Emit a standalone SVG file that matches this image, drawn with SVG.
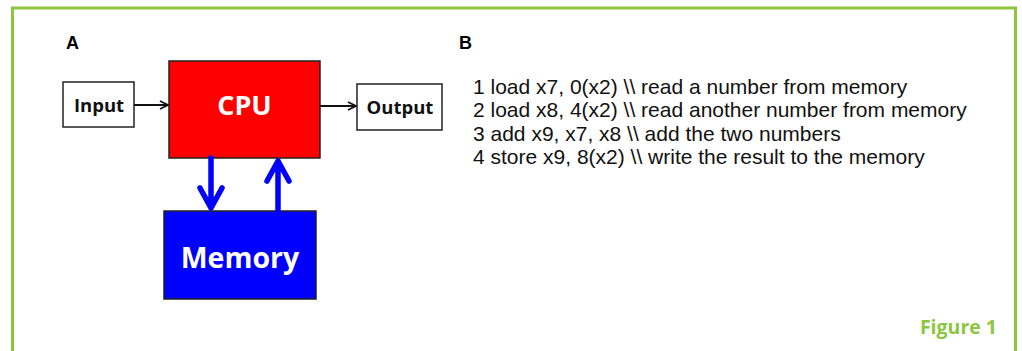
<svg xmlns="http://www.w3.org/2000/svg" width="1022" height="351" viewBox="0 0 1022 351">
<defs>
<style>
.box{stroke:#222;stroke-width:1.5}
.lbl{font-family:"Open Sans","Liberation Sans",sans-serif;font-weight:bold;text-anchor:middle}
.code{font-family:"Liberation Sans",Arial,sans-serif;font-size:21px;fill:#111}
.blk{stroke:#111;stroke-width:2;fill:none}
.blu{stroke:#0000ff;stroke-width:5.5;fill:none;stroke-linecap:round;stroke-linejoin:round}
.hd{font-family:"Liberation Sans",Arial,sans-serif;font-weight:bold;font-size:18px;fill:#000}
</style>
<marker id="ah" viewBox="0 0 10 10" refX="9" refY="5" markerWidth="10" markerHeight="10" markerUnits="userSpaceOnUse" orient="auto">
<path d="M1,1 L9,5 L1,9" fill="none" stroke="#111" stroke-width="1.8"/>
</marker>
</defs>
<rect width="1022" height="351" fill="#fff"/>
<path d="M12.5,351 V8 H1015.5 V351" fill="none" stroke="#8cc63f" stroke-width="3"/>
<text class="hd" x="66" y="49">A</text>
<text class="hd" x="459" y="49">B</text>
<g id="input"><rect class="box" x="63" y="82" width="71" height="45" fill="#fff"/><text class="lbl" x="99" y="112" font-size="18.5" fill="#111">Input</text></g>
<g id="cpu"><rect class="box" x="169" y="61" width="151" height="97" fill="#ff0000"/><text class="lbl" x="244.5" y="115" font-size="27" fill="#fff">CPU</text></g>
<g id="output"><rect class="box" x="357" y="84" width="85" height="46" fill="#fff"/><text class="lbl" x="400" y="114" font-size="18.5" fill="#111">Output</text></g>
<g id="memory"><rect class="box" x="164" y="211" width="152" height="88" fill="#0000ff"/><text class="lbl" x="240" y="268" font-size="28.5" fill="#fff">Memory</text></g>
<g id="connectors">
<line class="blk" x1="134" y1="105" x2="168" y2="105" marker-end="url(#ah)"/>
<line class="blk" x1="320" y1="106" x2="356" y2="106" marker-end="url(#ah)"/>
<path class="blu" d="M211,158 V208 M200,188 L211,208 L222,188"/>
<path class="blu" d="M278,211 V161 M267,181 L278,161 L289,181"/>
</g>
<g id="code">
<text class="code" x="473" y="93.5">1 load x7, 0(x2) \\ read a number from memory</text>
<text class="code" x="473" y="117">2 load x8, 4(x2) \\ read another number from memory</text>
<text class="code" x="473" y="140.5">3 add x9, x7, x8 \\ add the two numbers</text>
<text class="code" x="473" y="164">4 store x9, 8(x2) \\ write the result to the memory</text>
</g>
<text x="997" y="334" text-anchor="end" font-family="Open Sans,Liberation Sans,sans-serif" font-weight="bold" font-size="19.5" fill="#8cc63f">Figure 1</text>
</svg>
